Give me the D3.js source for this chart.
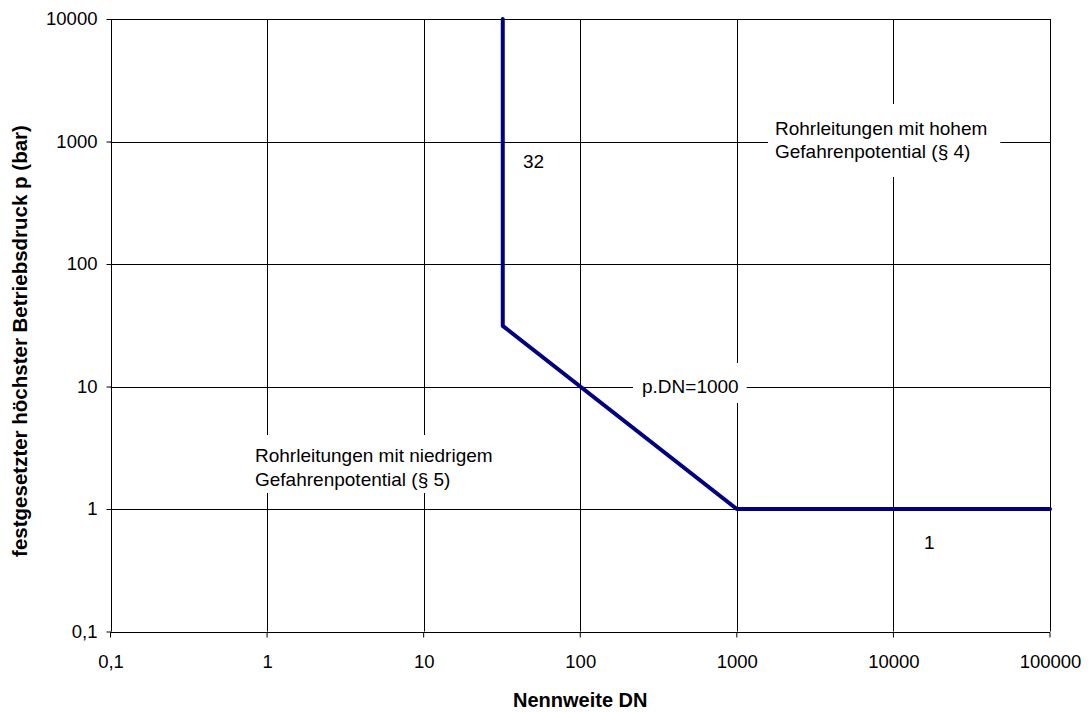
<!DOCTYPE html>
<html>
<head>
<meta charset="utf-8">
<script src="https://cdn.jsdelivr.net/npm/d3@7"></script>
<style>
  body { margin: 0; background: #fff; }
  text { font-family: "Liberation Sans", Arial, sans-serif; fill: #000; }
</style>
</head>
<body>
<div id="chart"></div>
<script>
// Axis ticks (log scales).
const xTicks = [0.1, 1, 10, 100, 1000, 10000, 100000]
const yTicks = [0.1, 1, 10, 100, 1000, 10000]

// Boundary line between the two hazard classes.
const boundaryDN = [32, 32, 1000, 100000]
const boundaryP = [10000, 31.25, 1, 1]

const fmt = d => String(d).replace('.', ',')

const width = 1091,
      height = 712
const margin = { top: 19, right: 41, bottom: 80.5, left: 110.5 }

const svg = d3.select('#chart')
  .append('svg')
    .attr('width', width)
    .attr('height', height)

const x = d3.scaleLog()
  .domain([0.1, 100000])
  .range([margin.left, width - margin.right])

const y = d3.scaleLog()
  .domain([0.1, 10000])
  .range([height - margin.bottom, margin.top])

// Grid.
const grid = svg.append('g')
grid.selectAll('.vx')
  .data(xTicks)
  .enter()
  .append('line')
    .attr('x1', d => Math.round(x(d)) + 0.5)
    .attr('x2', d => Math.round(x(d)) + 0.5)
    .attr('y1', y(10000))
    .attr('y2', y(0.1))
    .attr('stroke', '#000')
    .attr('stroke-width', 1)
grid.selectAll('.hy')
  .data(yTicks)
  .enter()
  .append('line')
    .attr('x1', x(0.1))
    .attr('x2', x(100000))
    .attr('y1', d => Math.round(y(d)) + 0.5)
    .attr('y2', d => Math.round(y(d)) + 0.5)
    .attr('stroke', '#000')
    .attr('stroke-width', 1)

// Axes.
const xAxis = svg.append('g')
  .attr('transform', 'translate(0,' + (Math.round(y(0.1)) + 0.5) + ')')
  .call(d3.axisBottom(x).tickValues(xTicks).tickFormat(fmt).tickSize(5).tickPadding(17))
const yAxis = svg.append('g')
  .attr('transform', 'translate(' + (Math.round(x(0.1)) + 0.5) + ',0)')
  .call(d3.axisLeft(y).tickValues(yTicks).tickFormat(fmt).tickSize(5).tickPadding(9))

for (const ax of [xAxis, yAxis]) {
  ax.select('.domain').remove()
  ax.selectAll('.tick line').attr('stroke', '#000')
  ax.selectAll('.tick text')
    .attr('font-family', '"Liberation Sans", Arial, sans-serif')
    .attr('font-size', 18.5)
    .attr('fill', '#000')
}
xAxis.selectAll('.tick line').attr('transform', 'translate(-0.5,0)')

// Axis titles.
svg.append('text')
  .attr('x', x(100))
  .attr('y', 707)
  .attr('text-anchor', 'middle')
  .style('font-size', '20px')
  .style('font-weight', 'bold')
  .text('Nennweite DN')

svg.append('text')
  .attr('transform', 'translate(27,341) rotate(-90)')
  .attr('text-anchor', 'middle')
  .style('font-size', '20.5px')
  .style('font-weight', 'bold')
  .text('festgesetzter höchster Betriebsdruck p (bar)')

// Annotations with white background boxes.
function label(lines, px, py, lh, box) {
  const g = svg.append('g')
  const rect = g.append('rect').attr('fill', '#fff')
  const t = g.append('text')
    .attr('x', px)
    .attr('y', py)
    .style('font-size', '19px')
  lines.forEach((l, i) => {
    t.append('tspan')
      .attr('x', px)
      .attr('dy', i === 0 ? 0 : lh)
      .text(l)
  })
  if (box) {
    const b = t.node().getBBox()
    rect.attr('x', b.x - box[3])
      .attr('y', b.y - box[0])
      .attr('width', b.width + box[1] + box[3])
      .attr('height', b.height + box[0] + box[2])
  }
}

label(['Rohrleitungen mit hohem', 'Gefahrenpotential (§ 4)'], 775, 135, 23, [14, 13, 15, 7])
label(['Rohrleitungen mit niedrigem', 'Gefahrenpotential (§ 5)'], 255, 462, 24, [10, 6, 3, 0])

// Boundary line.
const pts = boundaryDN.map((d, i) => [d, boundaryP[i]])
svg.append('path')
  .datum(pts)
  .attr('d', d3.line().x(d => x(d[0])).y(d => y(d[1])))
  .attr('fill', 'none')
  .attr('stroke', '#000080')
  .attr('stroke-width', 4)
  .attr('stroke-linejoin', 'round')
  .attr('stroke-linecap', 'round')

label(['32'], 523, 168, 0, null)
label(['p.DN=1000'], 642, 393, 0, [13, 8, 6, 9])
label(['1'], 924, 549, 0, null)
</script>
</body>
</html>
